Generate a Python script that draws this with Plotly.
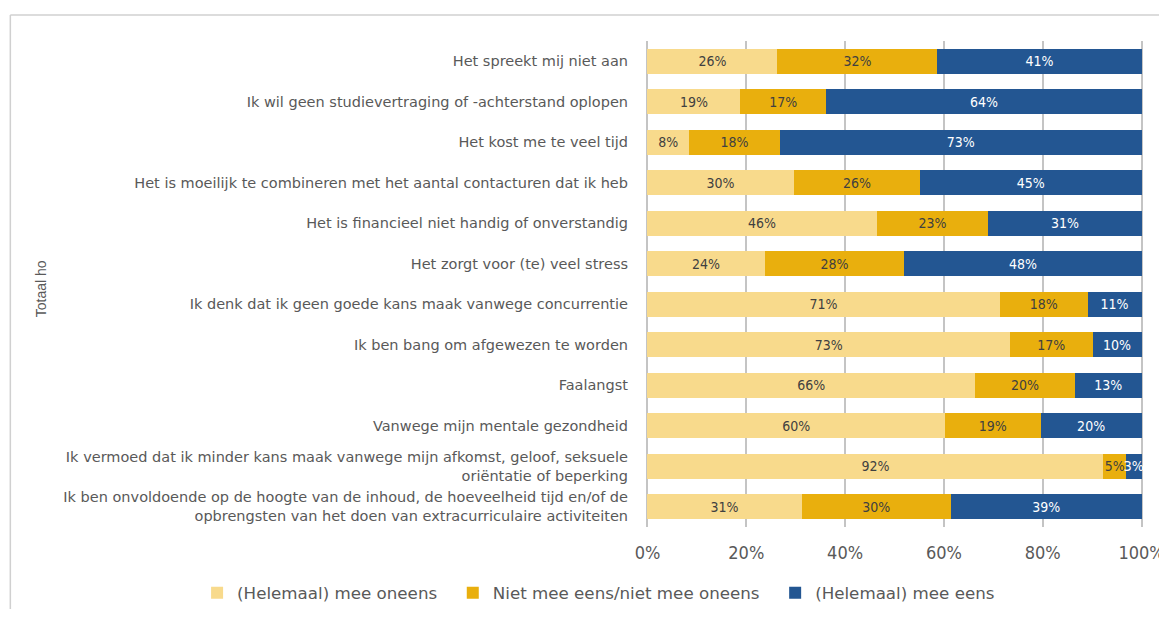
import plotly.graph_objects as go

categories = [
    "Het spreekt mij niet aan",
    "Ik wil geen studievertraging of -achterstand oplopen",
    "Het kost me te veel tijd",
    "Het is moeilijk te combineren met het aantal contacturen dat ik heb",
    "Het is financieel niet handig of onverstandig",
    "Het zorgt voor (te) veel stress",
    "Ik denk dat ik geen goede kans maak vanwege concurrentie",
    "Ik ben bang om afgewezen te worden",
    "Faalangst",
    "Vanwege mijn mentale gezondheid",
    "Ik vermoed dat ik minder kans maak vanwege mijn afkomst, geloof, seksuele<br>oriëntatie of beperking",
    "Ik ben onvoldoende op de hoogte van de inhoud, de hoeveelheid tijd en/of de<br>opbrengsten van het doen van extracurriculaire activiteiten",
]

oneens = [26.3, 18.8, 8.4, 29.6, 46.4, 23.7, 71.3, 73.4, 66.3, 60.2, 92.3, 31.2]
neutraal = [32.4, 17.4, 18.4, 25.6, 22.6, 28.3, 17.8, 16.7, 20.2, 19.4, 4.6, 30.2]
eens = [41.3, 63.8, 73.2, 44.8, 31.0, 48.0, 10.9, 9.9, 13.5, 20.4, 3.1, 38.6]

oneens_lbl = ["26%", "19%", "8%", "30%", "46%", "24%", "71%", "73%", "66%", "60%", "92%", "31%"]
neutraal_lbl = ["32%", "17%", "18%", "26%", "23%", "28%", "18%", "17%", "20%", "19%", "5%", "30%"]
eens_lbl = ["41%", "64%", "73%", "45%", "31%", "48%", "11%", "10%", "13%", "20%", "3%", "39%"]

series_names = ["(Helemaal) mee oneens", "Niet mee eens/niet mee oneens", "(Helemaal) mee eens"]
colors = ["#F8DA8C", "#E9AF0D", "#235692"]
text_colors = ["#404040", "#404040", "#FFFFFF"]

x_ticks = [0, 20, 40, 60, 80, 100]
x_tick_labels = ["0%", "20%", "40%", "60%", "80%", "100%"]

FONT = "DejaVu Sans"
NARROW = "Liberation Sans Narrow, DejaVu Sans Condensed, Arial Narrow, DejaVu Sans"
NBSP = "\u00a0"

# layout geometry (page pixels; page body has an 8px margin)
X_PAD = 0.3                       # small range padding so 0% and 100% gridlines are drawn
UNIT = 494.7 / 100.0              # pixels per percent
PLOT_LEFT_PAGE = 647 - X_PAD * UNIT
PW = (100 + 2 * X_PAD) * UNIT
PH = 486.0
FIG_W, FIG_H = 1151, 601          # fits the window together with the 8px body margin
M_L = PLOT_LEFT_PAGE - 8
M_R = FIG_W - M_L - PW
M_T = 33
M_B = FIG_H - M_T - PH


def px_x(px):
    return (px - PLOT_LEFT_PAGE) / PW


def px_y(py):
    return (527 - py) / PH


legend_pad = [NBSP * 2, NBSP * 2, ""]

fig = go.Figure()
for vals, lbls, name, col, tcol, pad in zip(
    [oneens, neutraal, eens], [oneens_lbl, neutraal_lbl, eens_lbl], series_names, colors, text_colors, legend_pad
):
    fig.add_trace(go.Bar(
        y=categories, x=vals, name=name + pad, orientation="h",
        marker=dict(color=col, line=dict(width=0)),
        text=lbls, textposition="inside", insidetextanchor="middle",
        textangle=0, constraintext="none", cliponaxis=False,
        textfont=dict(family=NARROW, size=14, color=tcol),
        hoverinfo="skip",
    ))

fig.update_layout(
    barmode="stack",
    bargap=0.38,
    width=FIG_W, height=FIG_H,
    margin=dict(l=M_L, r=M_R, t=M_T, b=M_B, autoexpand=False),
    paper_bgcolor="white", plot_bgcolor="white",
    font=dict(family=FONT, color="#595959"),
    showlegend=True,
    legend=dict(
        orientation="h", x=px_x(196), xanchor="left",
        y=px_y(593), yanchor="middle",
        font=dict(family=FONT, size=16.7, color="#595959"),
        traceorder="normal", itemwidth=30,
    ),
    xaxis=dict(
        range=[-X_PAD, 100 + X_PAD], tickvals=x_ticks, ticktext=x_tick_labels,
        showgrid=True, gridcolor="#C4C4C4", gridwidth=1.5,
        zeroline=False, showline=False,
        tickfont=dict(family=NARROW, size=18, color="#595959"),
        ticks="", ticklabelstandoff=13, ticklabeloverflow="allow",
    ),
    yaxis=dict(
        autorange="reversed", showgrid=False, zeroline=False, showline=False,
        ticks="", ticklabelstandoff=int(round(18 - X_PAD * UNIT)),
        tickfont=dict(family=FONT, size=14.5, color="#595959"),
    ),
    annotations=[dict(
        text="Totaal ho", textangle=-90, xref="paper", yref="paper",
        x=px_x(40), y=px_y(289), showarrow=False,
        font=dict(family="Liberation Sans", size=14, color="#595959"),
        xanchor="center", yanchor="middle",
    )],
    shapes=[
        dict(type="line", xref="paper", yref="paper",
             x0=px_x(9), x1=px_x(1200), y0=px_y(15), y1=px_y(15),
             line=dict(color="#D0D0D0", width=1.5)),
        dict(type="line", xref="paper", yref="paper",
             x0=px_x(9), x1=px_x(9), y0=px_y(15), y1=px_y(650),
             line=dict(color="#D0D0D0", width=1.5)),
    ],
)

fig.write_html("out.html")
